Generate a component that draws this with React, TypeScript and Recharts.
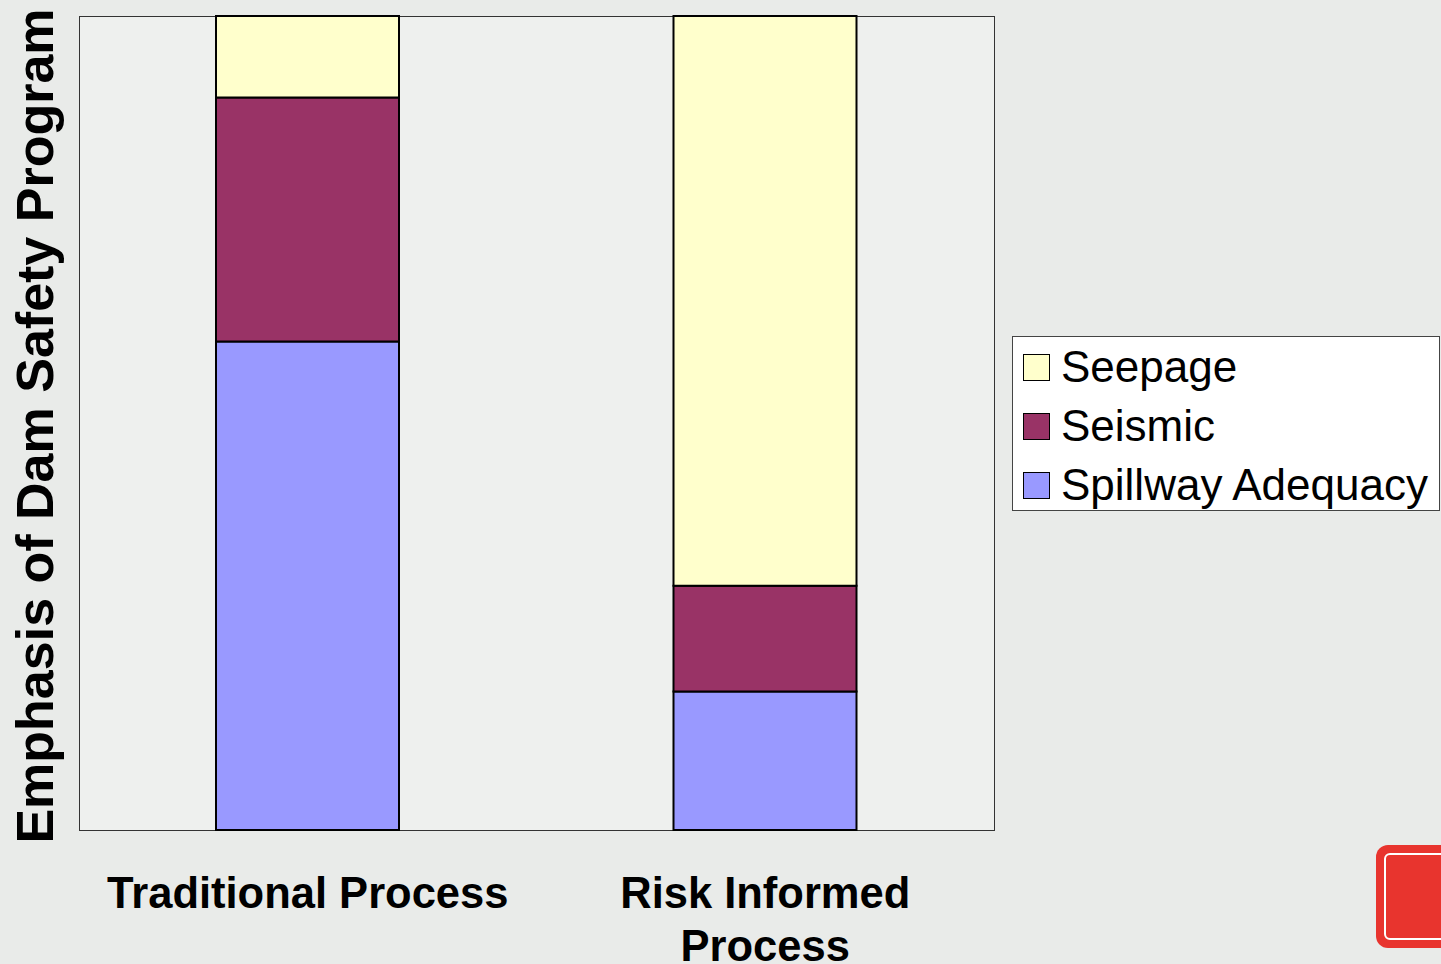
import { BarChart, Bar, XAxis, YAxis } from 'recharts'

const categories = ['Traditional Process', 'Risk Informed Process']
const tickLines = [['Traditional Process'], ['Risk Informed', 'Process']]
const spillway = [60, 17]
const seismic = [30, 13]
const seepage = [10, 70]

const seriesNames = ['Seepage', 'Seismic', 'Spillway Adequacy']
const seriesColors = ['#ffffcc', '#993366', '#9999ff']

const data = categories.map((name, i) => ({
  name,
  spillway: spillway[i],
  seismic: seismic[i],
  seepage: seepage[i],
}))

const FONT = '"Liberation Sans", Arial, sans-serif'

function CategoryTick(props: any) {
  const { x, y, index } = props
  const lines = tickLines[index] || [props.payload.value]
  return (
    <g transform={`translate(${x},${y})`}>
      {lines.map((line: string, k: number) => (
        <text
          key={k}
          x={0}
          y={70 + k * 53}
          textAnchor="middle"
          fontFamily={FONT}
          fontWeight="bold"
          fontSize={43.5}
          fill="#000"
        >
          {line}
        </text>
      ))}
    </g>
  )
}

function LegendBox() {
  return (
    <div
      style={{
        position: 'absolute',
        left: 1012,
        top: 336,
        width: 426,
        height: 173,
        background: '#fff',
        border: '1px solid #444',
        fontFamily: FONT,
        fontSize: 44,
        color: '#000',
      }}
    >
      {seriesNames.map((n, i) => (
        <div
          key={n}
          style={{ position: 'absolute', left: 10, top: 6 + i * 59, height: 48, display: 'flex', alignItems: 'center' }}
        >
          <span
            style={{
              display: 'inline-block',
              width: 25,
              height: 25,
              background: seriesColors[i],
              border: '1.5px solid #000',
              marginRight: 11,
            }}
          />
          <span style={{ lineHeight: '48px' }}>{n}</span>
        </div>
      ))}
    </div>
  )
}

export default function App() {
  return (
    <div
      style={{
        position: 'absolute',
        left: 0,
        top: 0,
        width: 1441,
        height: 964,
        overflow: 'hidden',
        background: '#e9ebe9',
      }}
    >
      {/* plot frame */}
      <div
        style={{
          position: 'absolute',
          left: 79,
          top: 16,
          width: 914,
          height: 813,
          background: '#eef0ee',
          border: '1px solid #333',
        }}
      />
      <div
        style={{
          position: 'absolute',
          left: 35,
          top: 426,
          transform: 'translate(-50%, -50%) rotate(-90deg)',
          whiteSpace: 'nowrap',
          fontFamily: FONT,
          fontWeight: 'bold',
          fontSize: 52,
          color: '#000',
        }}
      >
        Emphasis of Dam Safety Program
      </div>
      <div style={{ position: 'absolute', left: 0, top: 0 }}>
        <BarChart width={1441} height={964} data={data} margin={{ top: 16, right: 447, bottom: 0, left: 79 }}>
          <YAxis hide domain={[0, 100]} />
          <XAxis
            dataKey="name"
            axisLine={false}
            tickLine={false}
            interval={0}
            height={134}
            tick={<CategoryTick />}
          />
          <Bar dataKey="spillway" stackId="a" fill="#9999ff" stroke="#000" strokeWidth={2} barSize={183} isAnimationActive={false} />
          <Bar dataKey="seismic" stackId="a" fill="#993366" stroke="#000" strokeWidth={2} barSize={183} isAnimationActive={false} />
          <Bar dataKey="seepage" stackId="a" fill="#ffffcc" stroke="#000" strokeWidth={2} barSize={183} isAnimationActive={false} />
        </BarChart>
      </div>
      <LegendBox />
      {/* corner logo */}
      <div
        style={{
          position: 'absolute',
          left: 1376,
          top: 845,
          width: 100,
          height: 103,
          background: '#e8342e',
          borderRadius: 12,
        }}
      >
        <div
          style={{
            position: 'absolute',
            left: 8,
            top: 8,
            right: 8,
            bottom: 8,
            border: '2px solid #fff',
            borderRadius: 6,
          }}
        />
      </div>
    </div>
  )
}
